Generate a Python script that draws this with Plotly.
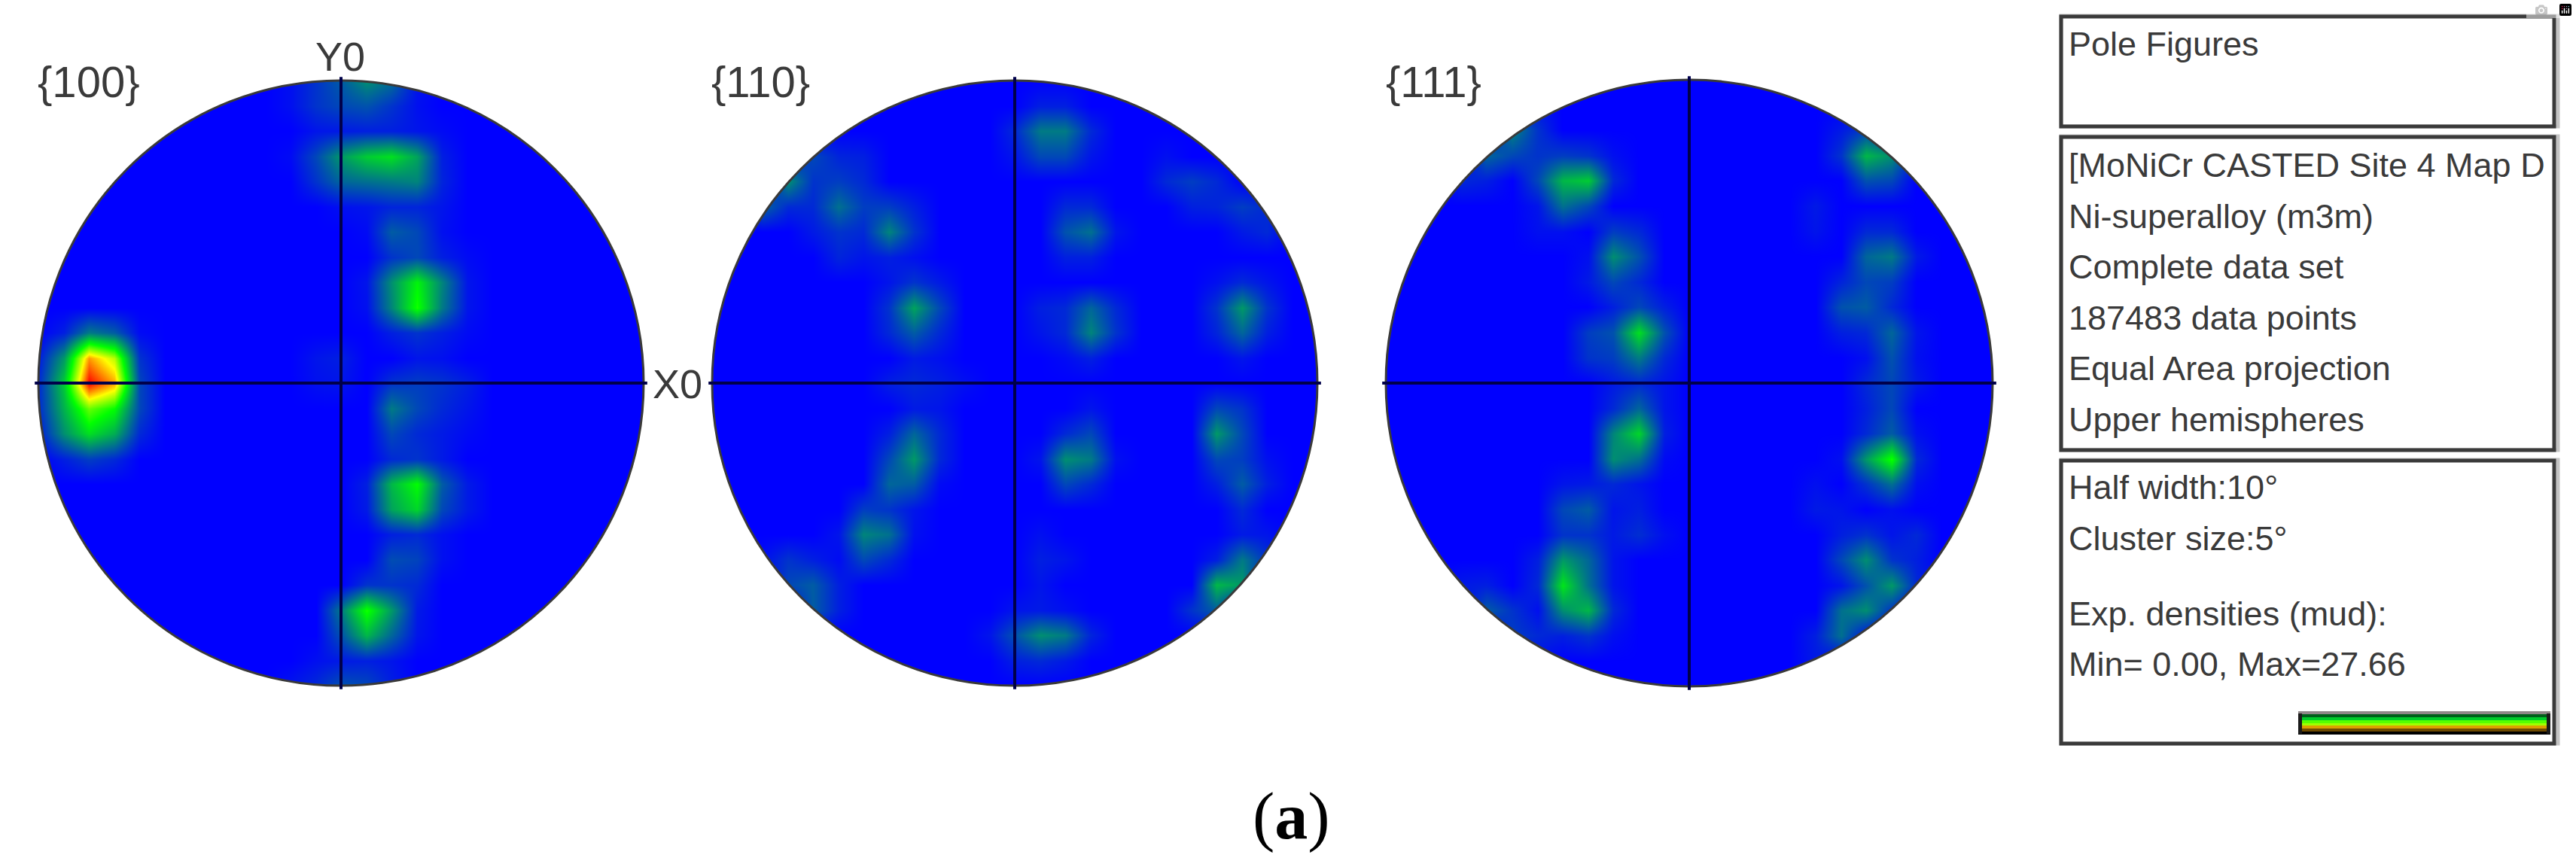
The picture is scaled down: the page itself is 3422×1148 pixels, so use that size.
import numpy as np
import plotly.graph_objects as go

W, H = 3422, 1148

# pole figure densities as % of the colour range
# {row: {col: value}} on a 25x25 grid, row 0 on top, everything else is 0
POLE_100 = {
    0: {10: 3, 11: 10, 12: 18, 13: 28, 14: 22, 15: 4},
    1: {10: 3, 11: 10, 12: 14, 13: 16, 14: 10, 15: 3},
    2: {11: 4, 12: 5, 13: 6, 14: 6, 15: 4, 16: 2},
    3: {10: 2, 11: 14, 12: 30, 13: 40, 14: 44, 15: 32, 16: 6},
    4: {11: 10, 12: 20, 13: 22, 14: 24, 15: 26, 16: 7},
    5: {12: 3, 13: 4, 14: 7, 15: 7, 16: 4},
    6: {13: 2, 14: 18, 15: 14, 16: 3},
    7: {14: 10, 15: 14, 16: 6, 17: 2},
    8: {13: 4, 14: 28, 15: 48, 16: 26, 17: 4},
    9: {13: 3, 14: 26, 15: 52, 16: 24, 17: 4},
    10: {1: 6, 2: 24, 3: 18, 4: 2, 14: 6, 15: 10, 16: 6, 17: 2},
    11: {0: 5, 1: 30, 2: 85, 3: 68, 4: 10, 11: 4, 12: 6, 15: 4, 16: 3},
    12: {0: 8, 1: 40, 2: 100, 3: 84, 4: 14, 11: 3, 12: 4, 14: 10, 15: 12, 16: 10, 17: 6},
    13: {0: 8, 1: 35, 2: 60, 3: 50, 4: 14, 14: 24, 15: 14, 16: 8, 17: 4},
    14: {0: 5, 1: 28, 2: 44, 3: 34, 4: 8, 14: 14, 15: 8, 16: 5, 17: 2},
    15: {1: 6, 2: 12, 3: 8, 14: 8, 15: 10, 16: 5},
    16: {13: 6, 14: 36, 15: 50, 16: 18, 17: 5},
    17: {13: 5, 14: 32, 15: 42, 16: 14, 17: 5},
    18: {14: 6, 15: 8, 16: 3},
    19: {14: 15, 15: 13, 16: 3},
    20: {13: 10, 14: 10, 15: 8},
    21: {12: 24, 13: 52, 14: 30, 15: 5},
    22: {12: 16, 13: 36, 14: 20, 15: 4},
    23: {11: 3, 12: 5, 13: 6, 14: 4},
    24: {10: 4, 11: 8, 12: 16, 13: 14, 14: 6},
}
POLE_110 = {
    1: {13: 6, 14: 6},
    2: {12: 8, 13: 24, 14: 24, 15: 8},
    3: {3: 6, 4: 14, 5: 7, 6: 6, 12: 4, 13: 14, 14: 14, 15: 4, 18: 3},
    4: {3: 28, 4: 10, 5: 12, 6: 8, 18: 8, 19: 12, 20: 8},
    5: {2: 20, 3: 8, 4: 8, 5: 22, 6: 12, 7: 12, 8: 6, 14: 8, 15: 8, 19: 6, 20: 7, 21: 12, 22: 8},
    6: {4: 5, 5: 10, 6: 8, 7: 26, 8: 10, 14: 16, 15: 22, 16: 4, 21: 5, 22: 8},
    7: {5: 7, 6: 4, 7: 6, 8: 3, 14: 6, 15: 6},
    8: {7: 4, 8: 10, 9: 5, 20: 3, 21: 8, 22: 4},
    9: {7: 10, 8: 32, 9: 14, 13: 6, 14: 8, 15: 20, 16: 8, 20: 10, 21: 30, 22: 10},
    10: {7: 8, 8: 18, 9: 8, 13: 4, 14: 8, 15: 26, 16: 10, 20: 7, 21: 20, 22: 6},
    11: {8: 5, 9: 3, 14: 2, 15: 6, 21: 4},
    12: {7: 6, 8: 8, 9: 6, 10: 3},
    13: {8: 5, 9: 4, 15: 4, 20: 14, 21: 10},
    14: {7: 6, 8: 20, 9: 8, 14: 8, 15: 14, 20: 30, 21: 14},
    15: {7: 14, 8: 30, 9: 8, 13: 4, 14: 28, 15: 24, 16: 3, 20: 14, 21: 12, 22: 3},
    16: {7: 20, 8: 18, 9: 2, 14: 14, 15: 8, 20: 6, 21: 18, 22: 6},
    17: {6: 12, 7: 10, 8: 4, 21: 8},
    18: {5: 4, 6: 26, 7: 22, 8: 3, 13: 3, 21: 5, 22: 4},
    19: {2: 3, 3: 10, 4: 6, 5: 2, 6: 14, 7: 8, 13: 6, 14: 4, 20: 6, 21: 24, 22: 10},
    20: {3: 14, 4: 18, 5: 6, 13: 4, 20: 36, 21: 30},
    21: {4: 18, 5: 6, 12: 4, 13: 5, 14: 3, 19: 10, 20: 18},
    22: {11: 4, 12: 16, 13: 28, 14: 24, 15: 7},
    23: {12: 6, 13: 8, 14: 5},
}
POLE_111 = {
    1: {6: 4},
    2: {5: 26, 6: 10, 18: 5, 19: 12, 20: 4},
    3: {4: 20, 5: 14, 6: 10, 7: 12, 8: 10, 9: 3, 18: 10, 19: 36, 20: 28, 21: 3},
    4: {3: 8, 4: 6, 6: 14, 7: 36, 8: 40, 9: 8, 19: 16, 20: 14},
    5: {6: 4, 7: 22, 8: 14, 17: 5},
    6: {6: 3, 7: 3, 9: 12, 10: 8, 17: 4, 19: 8, 20: 8},
    7: {8: 3, 9: 28, 10: 16, 19: 20, 20: 24, 21: 5},
    8: {8: 5, 9: 14, 10: 8, 18: 7, 19: 14, 20: 12},
    9: {9: 6, 10: 14, 11: 6, 18: 16, 19: 18, 20: 8},
    10: {8: 12, 9: 16, 10: 44, 11: 16, 18: 6, 19: 8, 20: 20, 21: 4},
    11: {8: 10, 9: 12, 10: 24, 11: 8, 19: 3, 20: 16, 21: 3},
    12: {9: 5, 10: 8, 11: 4, 19: 8, 20: 14, 21: 5},
    13: {9: 8, 10: 20, 11: 4, 19: 6, 20: 14},
    14: {9: 26, 10: 42, 11: 6, 19: 8, 20: 18, 21: 3},
    15: {9: 28, 10: 22, 11: 2, 18: 3, 19: 30, 20: 52, 21: 8},
    16: {7: 4, 8: 5, 9: 8, 10: 4, 17: 3, 19: 10, 20: 22, 21: 3},
    17: {7: 14, 8: 18, 9: 4, 10: 6, 17: 5, 18: 4, 20: 3},
    18: {7: 10, 8: 10, 9: 5, 10: 9, 11: 3, 18: 6, 19: 10, 20: 4, 21: 8},
    19: {6: 6, 7: 30, 8: 20, 9: 4, 18: 14, 19: 28, 20: 10, 21: 6},
    20: {3: 5, 4: 6, 6: 8, 7: 45, 8: 22, 9: 4, 18: 4, 19: 16, 20: 30, 21: 8},
    21: {4: 18, 5: 10, 6: 3, 7: 28, 8: 36, 9: 8, 18: 22, 19: 28, 20: 10},
    22: {5: 12, 6: 8, 7: 6, 8: 10, 9: 3, 17: 6, 18: 22, 19: 3},
    23: {6: 3, 17: 5},
}

FIGURE_LABELS = ["{100}", "{110}", "{111}"]
PANEL_TITLE = ["Pole Figures"]
PANEL_INFO = [
    "[MoNiCr CASTED Site 4 Map D",
    "Ni-superalloy (m3m)",
    "Complete data set",
    "187483 data points",
    "Equal Area projection",
    "Upper hemispheres",
]
PANEL_DENSITY = [
    "Half width:10°",
    "Cluster size:5°",
    "Exp. densities (mud):",
    "Min= 0.00, Max=27.66",
]
LEGEND_BANDS = ["#8f8787", "#005f1a", "#00cc2a", "#55ff00", "#a0ff00", "#dca000", "#6e4a00", "#000000"]

COLORS = [[0, "#0000ff"], [0.5, "#00ff00"], [0.75, "#ffff00"], [1, "#ff0000"]]
GRID = np.linspace(1, -1, 25)
PAD = 1.03
CIRCLES = [(453, 509, 402), (1348, 509, 402), (2244, 509, 403)]
INK = "#3a3a3a"
FONT = "Liberation Sans"


def to_grid(sparse):
    z = np.zeros((25, 25))
    for row, cells in sparse.items():
        for col, val in cells.items():
            z[row, col] = val
    return z


def mask_path():
    # white square with a round hole, bezier quarter arcs
    k = 0.5523
    return (
        "M-1.2,-1.2 L1.2,-1.2 L1.2,1.2 L-1.2,1.2 Z "
        f"M1,0 C1,{k} {k},1 0,1 C{-k},1 -1,{k} -1,0 "
        f"C-1,{-k} {-k},-1 0,-1 C{k},-1 1,{-k} 1,0 Z"
    )


def label(text, x, y, size, anchor="left", family=FONT, color=INK):
    return dict(
        text=text, x=x / W, y=1 - y / H, xref="paper", yref="paper",
        xanchor=anchor, yanchor="middle", showarrow=False,
        font=dict(family=family, size=size, color=color),
    )


def paper_rect(x0, y0, x1, y1, **style):
    return dict(type="rect", xref="paper", yref="paper", x0=x0 / W, x1=x1 / W, y0=1 - y0 / H, y1=1 - y1 / H, **style)


fig = go.Figure()
layout = dict(shapes=[], annotations=[])

for i, (pole, (cx, cy, r)) in enumerate(zip([POLE_100, POLE_110, POLE_111], CIRCLES)):
    n = "" if i == 0 else str(i + 1)
    fig.add_trace(go.Heatmap(
        z=to_grid(pole), x=GRID[::-1], y=GRID, zmin=0, zmax=100, colorscale=COLORS,
        zsmooth="best", showscale=False, hoverinfo="skip", xaxis=f"x{n}", yaxis=f"y{n}",
    ))
    axis = dict(range=[-PAD, PAD], visible=False, fixedrange=True)
    layout[f"xaxis{n}"] = dict(axis, domain=[(cx - PAD * r) / W, (cx + PAD * r) / W])
    layout[f"yaxis{n}"] = dict(axis, domain=[1 - (cy + PAD * r) / H, 1 - (cy - PAD * r) / H])
    refs = dict(xref=f"x{n}", yref=f"y{n}")
    layout["shapes"] += [
        dict(type="path", path=mask_path(), fillcolor="white", line_width=0, **refs),
        dict(type="circle", x0=-1, x1=1, y0=-1, y1=1, line=dict(color=INK, width=3), **refs),
        dict(type="line", x0=0, x1=0, y0=-1.012, y1=1.012, line=dict(color="#00004a", width=4), **refs),
        dict(type="line", x0=-1.012, x1=1.012, y0=0, y1=0, line=dict(color="#00004a", width=4), **refs),
    ]
    layout["annotations"].append(label(FIGURE_LABELS[i], cx - 405, 108, 58))

layout["annotations"] += [
    label("Y0", 452, 75, 54, "center"),
    label("X0", 865, 510, 54),
    label("(<b>a</b>)", 1716, 1084, 88, "center", "Liberation Serif", "black"),
]

# info panel on the right
for y0, y1 in [(22, 168), (182, 598), (612, 988)]:
    layout["shapes"] += [
        paper_rect(2738, y0 - 1, 3398, y1, line=dict(color="#c4c4c4", width=5)),
        paper_rect(2738, y0, 3393, y1, line=dict(color=INK, width=5)),
    ]

for lines, ys in [
    (PANEL_TITLE, [58]),
    (PANEL_INFO, [219, 287, 354, 422, 489, 557]),
    (PANEL_DENSITY, [647, 715, 815, 882]),
]:
    for text, y in zip(lines, ys):
        layout["annotations"].append(label(text, 2746, y, 45))

# density scale bar
fig.add_trace(go.Heatmap(
    z=[[k] for k in range(len(LEGEND_BANDS))], zmin=0, zmax=len(LEGEND_BANDS) - 1,
    colorscale=[[k / (len(LEGEND_BANDS) - 1), c] for k, c in enumerate(LEGEND_BANDS)],
    showscale=False, hoverinfo="skip", xaxis="x4", yaxis="y4",
))
layout["xaxis4"] = dict(domain=[3053 / W, 3388 / W], visible=False, fixedrange=True)
layout["yaxis4"] = dict(domain=[1 - 976 / H, 1 - 945 / H], visible=False, fixedrange=True, autorange="reversed")
for x0, x1 in [(3053, 3058), (3383, 3388)]:
    layout["shapes"].append(paper_rect(x0, 948, x1, 975, fillcolor="#1a1a1a", line_width=0))

fig.update_layout(
    width=W, height=H, margin=dict(l=0, r=0, t=0, b=0),
    paper_bgcolor="white", plot_bgcolor="white", showlegend=False, **layout,
)
fig.write_html("out.html", post_script="document.body.style.margin='0';")
